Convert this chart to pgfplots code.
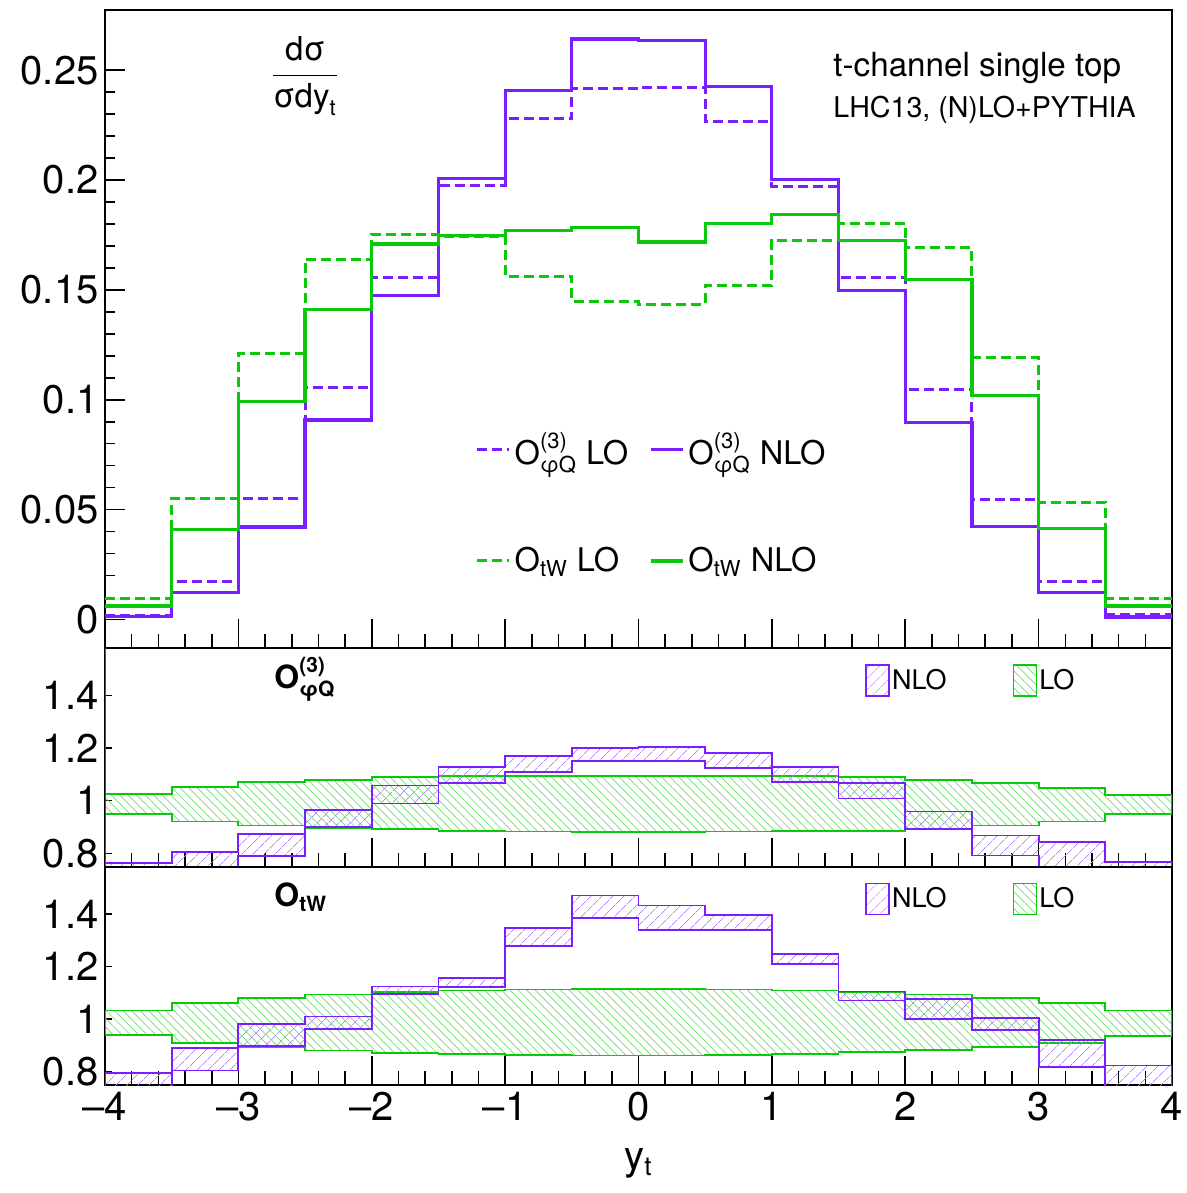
\documentclass[border=0pt]{standalone}
\usepackage{pgfplots}
\pgfplotsset{compat=1.18}
\usepackage{pgfplotstable}
\usetikzlibrary{patterns.meta}
\usepackage{fontspec}
\setmainfont{TeX Gyre Heros}
\definecolor{purp}{RGB}{122,30,255}
\definecolor{grn}{RGB}{10,200,10}

\pgfplotstableread{
x phinlo philo twnlo twlo
-4   0.0015 0.0019 0.0061 0.0096
-3.5 0.0122 0.0171 0.0410 0.0550
-3   0.0421 0.0550 0.0992 0.1211
-2.5 0.0908 0.1054 0.1410 0.1638
-2   0.1475 0.1555 0.1709 0.1753
-1.5 0.2006 0.1975 0.1747 0.1745
-1   0.2408 0.2278 0.1770 0.1560
-0.5 0.2642 0.2418 0.1785 0.1446
0    0.2634 0.2423 0.1718 0.1435
0.5  0.2425 0.2268 0.1804 0.1521
1    0.2002 0.1971 0.1845 0.1726
1.5  0.1496 0.1555 0.1726 0.1804
2    0.0898 0.1046 0.1546 0.1691
2.5  0.0423 0.0548 0.1019 0.1192
3    0.0124 0.0172 0.0414 0.0534
3.5  0.0011 0.0023 0.0061 0.0094
4    0.0011 0.0023 0.0061 0.0094
}\tabtop

\newcommand{\tickfont}{\fontsize{20}{22}\selectfont}

\pgfplotsset{
  panel/.style={
    scale only axis, width=533.5pt, xmin=-4, xmax=4,
    axis line style={line width=1pt},
    tick align=inside, xtick pos=bottom, ytick pos=left,
    xtick={-4,-3,...,4}, minor x tick num=4,
    tick style={line width=0.8pt, black},
    xtick style={/pgfplots/major tick length=14.5pt, /pgfplots/minor tick length=7pt},
    ticklabel style={font=\tickfont},
    yticklabel style={inner xsep=3pt},
    scaled y ticks=false,
  },
  ratio/.style={panel, height=109.25pt, ymin=0.75, ymax=1.58,
    ytick={0.8,1,1.2,1.4}, yticklabels={0.8,1,1.2,1.4},
    ytick style={/pgfplots/major tick length=3.5pt},
    legend columns=2,
    legend style={at={(0.7123,0.851)}, anchor=west, draw=none, fill=none,
      inner sep=0pt, font=\fontsize{13.5}{14}\selectfont,
      nodes={inner xsep=1pt},
      /tikz/every even column/.append style={column sep=32pt}},
    legend image code/.code={\draw[#1] (0pt,-7.75pt) rectangle (11.5pt,7.75pt);},
  },
}
\tikzset{
  nlopat/.style={draw=purp, line width=0.9pt, pattern={Lines[angle=45,distance=4pt,line width=0.4pt]}, pattern color=purp!55},
  lopat/.style={draw=grn, line width=0.9pt, pattern={Lines[angle=-45,distance=3pt,line width=0.35pt]}, pattern color=grn!60},
  lodash/.style={line width=1.5pt, dash pattern=on 5pt off 2.5pt},
}

\begin{document}
\begin{tikzpicture}
\useasboundingbox (0,0) rectangle (593.5pt,-596.5pt);

% ---------- top panel ----------
\begin{axis}[panel, at={(52.5pt,-324pt)}, anchor=south west,
  height=319pt, ymin=-0.013, ymax=0.2774,
  ytick={0,0.05,0.1,0.15,0.2,0.25}, yticklabels={0,0.05,0.1,0.15,0.2,0.25},
  minor y tick num=4,
  ytick style={/pgfplots/major tick length=10pt, /pgfplots/minor tick length=5pt},
  xticklabels={},
  legend columns=2,
  legend cell align=left,
  legend style={at={(0.347,0.2265)}, anchor=west, draw=none, fill=none,
    inner sep=0pt, font=\fontsize{16.3}{18}\selectfont,
    nodes={inner xsep=2pt},
    row sep=36pt,
    /tikz/every even column/.append style={column sep=8.5pt}},
  legend image code/.code={\draw[#1] (0pt,0pt) -- (16pt,0pt);},
]
\addplot[purp, lodash, const plot] table[x=x,y=philo]{\tabtop};
\addlegendentry{$\mbox{O}^{\mbox{\fontsize{11}{11}\selectfont (3)}}_{\mbox{\fontsize{11}{11}\selectfont φQ}}$ LO}
\addplot[purp, line width=1.6pt, const plot] table[x=x,y=phinlo]{\tabtop};
\addlegendentry{$\mbox{O}^{\mbox{\fontsize{11}{11}\selectfont (3)}}_{\mbox{\fontsize{11}{11}\selectfont φQ}}$ NLO}
\addplot[grn, lodash, const plot] table[x=x,y=twlo]{\tabtop};
\addlegendentry{$\mbox{O}_{\mbox{\fontsize{11}{11}\selectfont tW}}$ LO}
\addplot[grn, line width=1.6pt, const plot] table[x=x,y=twnlo]{\tabtop};
\addlegendentry{$\mbox{O}_{\mbox{\fontsize{11}{11}\selectfont tW}}$ NLO}
\end{axis}

% ---------- middle panel ----------
\begin{axis}[ratio, at={(52.5pt,-433.25pt)}, anchor=south west, xticklabels={}]
\addlegendimage{nlopat}
\addlegendentry{NLO}
\addlegendimage{lopat}
\addlegendentry{LO}
% LO band (green)
\addplot[lopat, forget plot] coordinates {
(-4,1.025)(-3.5,1.025)(-3.5,1.051)(-3,1.051)(-3,1.070)(-2.5,1.070)(-2.5,1.080)(-2,1.080)(-2,1.089)(-1.5,1.089)(-1.5,1.094)(-1,1.094)(-1,1.094)(-0.5,1.094)(-0.5,1.094)(0,1.094)(0,1.094)(0.5,1.094)(0.5,1.094)(1,1.094)(1,1.093)(1.5,1.093)(1.5,1.089)(2,1.089)(2,1.080)(2.5,1.080)(2.5,1.067)(3,1.067)(3,1.049)(3.5,1.049)(3.5,1.023)(4,1.023)
(4,0.949)(3.5,0.949)(3.5,0.921)(3,0.921)(3,0.906)(2.5,0.906)(2.5,0.891)(2,0.891)(2,0.886)(1.5,0.886)(1.5,0.884)(1,0.884)(1,0.883)(0.5,0.883)(0.5,0.882)(0,0.882)(0,0.882)(-0.5,0.882)(-0.5,0.883)(-1,0.883)(-1,0.886)(-1.5,0.886)(-1.5,0.891)(-2,0.891)(-2,0.895)(-2.5,0.895)(-2.5,0.906)(-3,0.906)(-3,0.921)(-3.5,0.921)(-3.5,0.949)(-4,0.949)
} --cycle;
% NLO band (purple)
\addplot[nlopat, forget plot] coordinates {
(-4,0.763)(-3.5,0.763)(-3.5,0.805)(-3,0.805)(-3,0.873)(-2.5,0.873)(-2.5,0.966)(-2,0.966)(-2,1.058)(-1.5,1.058)(-1.5,1.128)(-1,1.128)(-1,1.170)(-0.5,1.170)(-0.5,1.2015)(0,1.2015)(0,1.203)(0.5,1.203)(0.5,1.181)(1,1.181)(1,1.128)(1.5,1.128)(1.5,1.068)(2,1.068)(2,0.959)(2.5,0.959)(2.5,0.868)(3,0.868)(3,0.844)(3.5,0.844)(3.5,0.766)(4,0.766)
(4,0.70)(3.5,0.70)(3.5,0.70)(3,0.70)(3,0.792)(2.5,0.792)(2.5,0.892)(2,0.892)(2,1.008)(1.5,1.008)(1.5,1.070)(1,1.070)(1,1.124)(0.5,1.124)(0.5,1.150)(0,1.150)(0,1.152)(-0.5,1.152)(-0.5,1.110)(-1,1.110)(-1,1.067)(-1.5,1.067)(-1.5,0.989)(-2,0.989)(-2,0.900)(-2.5,0.900)(-2.5,0.791)(-3,0.791)(-3,0.74)(-3.5,0.74)(-3.5,0.70)(-4,0.70)
} --cycle;
\addplot[purp, line width=1.2pt, forget plot] coordinates {(-4,0.7) (-4,1.7)};
\end{axis}

% ---------- bottom panel ----------
\begin{axis}[ratio, at={(52.5pt,-542.5pt)}, anchor=south west,
  xticklabels={–4,–3,–2,–1,0,1,2,3,4},
  xlabel={y$_{\mbox{\fontsize{13}{13}\selectfont t}}$},
  xlabel style={font=\tickfont, yshift=-7pt},
]
\addlegendimage{nlopat}
\addlegendentry{NLO}
\addlegendimage{lopat}
\addlegendentry{LO}
% LO band (green)
\addplot[lopat, forget plot] coordinates {
(-4,1.033)(-3.5,1.033)(-3.5,1.062)(-3,1.062)(-3,1.081)(-2.5,1.081)(-2.5,1.094)(-2,1.094)(-2,1.103)(-1.5,1.103)(-1.5,1.109)(-1,1.109)(-1,1.113)(-0.5,1.113)(-0.5,1.115)(0,1.115)(0,1.115)(0.5,1.115)(0.5,1.113)(1,1.113)(1,1.109)(1.5,1.109)(1.5,1.104)(2,1.104)(2,1.094)(2.5,1.094)(2.5,1.082)(3,1.082)(3,1.062)(3.5,1.062)(3.5,1.033)(4,1.033)
(4,0.936)(3.5,0.936)(3.5,0.911)(3,0.911)(3,0.893)(2.5,0.893)(2.5,0.883)(2,0.883)(2,0.875)(1.5,0.875)(1.5,0.869)(1,0.869)(1,0.864)(0.5,0.864)(0.5,0.862)(0,0.862)(0,0.862)(-0.5,0.862)(-0.5,0.864)(-1,0.864)(-1,0.868)(-1.5,0.868)(-1.5,0.873)(-2,0.873)(-2,0.881)(-2.5,0.881)(-2.5,0.893)(-3,0.893)(-3,0.909)(-3.5,0.909)(-3.5,0.939)(-4,0.939)
} --cycle;
% NLO band (purple)
\addplot[nlopat, forget plot] coordinates {
(-4,0.797)(-3.5,0.797)(-3.5,0.891)(-3,0.891)(-3,0.981)(-2.5,0.981)(-2.5,1.010)(-2,1.010)(-2,1.124)(-1.5,1.124)(-1.5,1.157)(-1,1.157)(-1,1.346)(-0.5,1.346)(-0.5,1.470)(0,1.470)(0,1.432)(0.5,1.432)(0.5,1.395)(1,1.395)(1,1.247)(1.5,1.247)(1.5,1.105)(2,1.105)(2,1.077)(2.5,1.077)(2.5,1.005)(3,1.005)(3,0.922)(3.5,0.922)(3.5,0.824)(4,0.824)
(4,0.70)(3.5,0.70)(3.5,0.817)(3,0.817)(3,0.959)(2.5,0.959)(2.5,1.001)(2,1.001)(2,1.071)(1.5,1.071)(1.5,1.209)(1,1.209)(1,1.340)(0.5,1.340)(0.5,1.340)(0,1.340)(0,1.384)(-0.5,1.384)(-0.5,1.279)(-1,1.279)(-1,1.122)(-1.5,1.122)(-1.5,1.096)(-2,1.096)(-2,0.964)(-2.5,0.964)(-2.5,0.898)(-3,0.898)(-3,0.805)(-3.5,0.805)(-3.5,0.70)(-4,0.70)
} --cycle;
\end{axis}

% ---------- texts ----------
\node[inner sep=0pt] at (152.5pt,-38pt) {\fontsize{16.5}{18}\selectfont $\displaystyle\frac{\mbox{dσ}}{\mbox{σdy}_{\mbox{\fontsize{11}{11}\selectfont t}}}$};
\node[anchor=base west, inner sep=0pt] at (416.5pt,-38.5pt) {\fontsize{16.6}{18}\selectfont t-channel single top};
\node[anchor=base west, inner sep=0pt] at (416.5pt,-58.75pt) {\fontsize{14.3}{16}\selectfont LHC13, (N)LO+PYTHIA};
\node[anchor=base west, inner sep=0pt] at (137pt,-344pt) {\fontsize{16}{18}\selectfont\bfseries $\mbox{\bfseries O}^{\mbox{\bfseries\fontsize{10.5}{11}\selectfont (3)}}_{\mbox{\bfseries\fontsize{10.5}{11}\selectfont φQ}}$};
\node[anchor=base west, inner sep=0pt] at (137pt,-453pt) {\fontsize{16}{18}\selectfont\bfseries $\mbox{\bfseries O}_{\mbox{\bfseries\fontsize{10.5}{11}\selectfont tW}}$};
\end{tikzpicture}
\end{document}
